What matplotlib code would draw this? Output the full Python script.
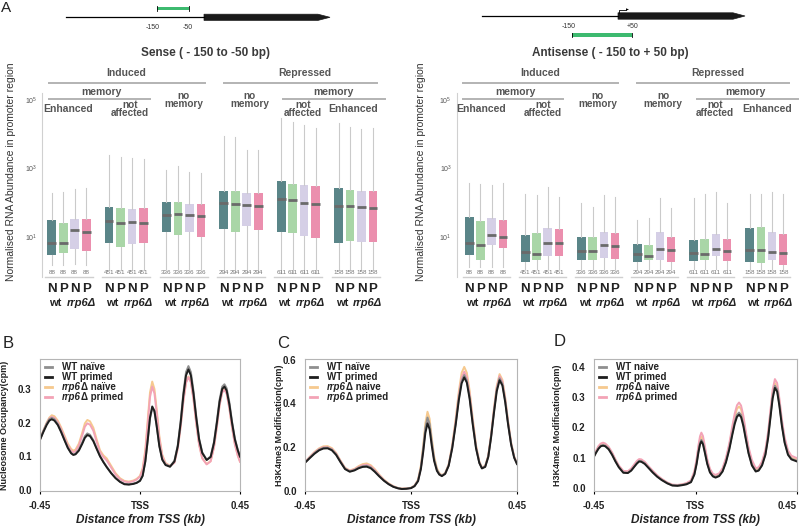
import matplotlib
matplotlib.use("Agg")
import matplotlib.pyplot as plt
from matplotlib.patches import Polygon, Rectangle
from matplotlib.lines import Line2D
from matplotlib.ticker import NullLocator
from matplotlib.transforms import blended_transform_factory
from matplotlib.offsetbox import AnchoredOffsetbox, DrawingArea, HPacker, TextArea, VPacker

plt.rcParams['font.family'] = ['Liberation Sans', 'DejaVu Sans']

W, H = 799, 527

# ---- panel A data: one row per gene group, columns wt N, wt P, rrp6 N, rrp6 P
GROUP_N = [88, 451, 336, 294, 611, 158]
CONDITIONS = ["N", "P", "N", "P"]
BOX_COLORS = ["#5a8588", "#a9d6a7", "#d5cfe6", "#eb8fae"]

SENSE_MED = [[6.8, 6.7, 15.6, 13.7], [29, 25, 28, 25], [45, 47, 43, 41],
             [101, 92, 86, 81], [129, 121, 97, 89], [81, 81, 74, 69]]
SENSE_Q1 = [[3.0, 3.4, 4.5, 4.0], [6.6, 5.2, 6.3, 6.8], [13.7, 11.2, 14.0, 10.2],
            [16.7, 14.3, 21, 15.6], [13.7, 12.8, 10.9, 9.2], [6.8, 7.8, 7.0, 7.2]]
SENSE_Q3 = [[31, 25.5, 33, 33], [75, 69, 66, 69], [105, 105, 90, 90],
            [226, 226, 188, 198], [420, 343, 328, 315], [268, 240, 226, 215]]
SENSE_LO = [[1.5, 1.5, 1.6, 1.5], [1.1, 1.1, 1.1, 1.1], [1.2, 1.2, 1.2, 1.2],
            [0.9, 0.9, 0.9, 0.9], [0.9, 0.9, 0.9, 0.9], [1.1, 1.1, 1.1, 1.1]]
SENSE_HI = [[190, 210, 245, 265], [2450, 2140, 2000, 1860], [930, 1175, 810, 760],
            [9100, 8500, 3500, 3500], [29500, 23400, 18600, 14800], [21000, 16600, 13800, 14800]]

ANTI_MED = [[6.5, 5.8, 11.4, 10.2], [3.7, 3.3, 6.8, 6.5], [3.9, 3.8, 5.7, 5.4],
            [3.3, 2.7, 4.5, 4.2], [3.5, 3.3, 4.4, 4.0], [4.3, 4.2, 3.7, 3.4]]
ANTI_Q1 = [[3.0, 2.1, 5.8, 4.7], [1.9, 2.1, 2.7, 2.7], [2.2, 2.2, 2.4, 2.3],
           [1.9, 2.2, 2.2, 1.9], [2.0, 2.1, 2.7, 2.0], [1.9, 1.7, 2.2, 1.5]]
ANTI_Q3 = [[37.5, 30, 36, 31], [11.2, 12.8, 18.3, 17.1], [10, 10, 13.7, 13.3],
           [6.1, 5.8, 13.7, 10], [8.3, 8.7, 12.2, 8.9], [18, 19, 14, 12]]
ANTI_LO = [[1.3, 1.3, 1.3, 1.3], [1.2, 1.2, 1.2, 1.2], [1.2, 1.2, 1.2, 1.2],
           [1.2, 1.2, 1.2, 1.2], [1.15, 1.15, 1.15, 1.15], [1.2, 1.2, 1.2, 1.2]]
ANTI_HI = [[380, 355, 330, 380], [186, 166, 295, 148], [96, 76, 166, 148],
           [31, 35, 135, 69], [135, 186, 210, 96], [186, 186, 210, 186]]

# ---- panels B-D: metagene profiles (kb from TSS)
XB = [-0.45, -0.435, -0.42, -0.408, -0.397, -0.385, -0.37, -0.355, -0.34, -0.325, -0.31, -0.30,
      -0.29, -0.275, -0.26, -0.248, -0.237, -0.225, -0.21, -0.195, -0.18, -0.165, -0.15, -0.13,
      -0.11, -0.09, -0.07, -0.05, -0.03, -0.015,
      0.0, 0.012, 0.024, 0.035, 0.045, 0.055, 0.065, 0.075, 0.087, 0.1, 0.115, 0.135,
      0.155, 0.17, 0.183, 0.195, 0.207, 0.218, 0.229, 0.241, 0.253, 0.266, 0.28, 0.30,
      0.318, 0.333, 0.346, 0.358, 0.37, 0.38, 0.39, 0.402, 0.414, 0.427, 0.44, 0.45]
B_WT_NAIVE = [0.150, 0.175, 0.197, 0.210, 0.214, 0.210, 0.196, 0.174, 0.150, 0.127, 0.110, 0.105,
              0.108, 0.120, 0.141, 0.160, 0.168, 0.164, 0.148, 0.124, 0.101, 0.084, 0.069, 0.051,
              0.036, 0.025, 0.018, 0.017, 0.019, 0.022,
              0.028, 0.043, 0.085, 0.148, 0.212, 0.242, 0.232, 0.190, 0.132, 0.092, 0.076, 0.070,
              0.087, 0.133, 0.205, 0.288, 0.350, 0.368, 0.350, 0.293, 0.220, 0.153, 0.112, 0.090,
              0.100, 0.143, 0.205, 0.268, 0.307, 0.314, 0.302, 0.261, 0.204, 0.153, 0.120, 0.100]
B_WT_PRIMED = [0.149, 0.172, 0.193, 0.206, 0.210, 0.206, 0.193, 0.172, 0.148, 0.125, 0.109, 0.104,
               0.106, 0.117, 0.137, 0.155, 0.163, 0.160, 0.145, 0.122, 0.100, 0.083, 0.068, 0.050,
               0.035, 0.024, 0.017, 0.016, 0.018, 0.021,
               0.027, 0.042, 0.085, 0.150, 0.215, 0.248, 0.235, 0.190, 0.130, 0.090, 0.074, 0.069,
               0.085, 0.130, 0.200, 0.280, 0.340, 0.358, 0.340, 0.285, 0.215, 0.150, 0.110, 0.089,
               0.098, 0.140, 0.200, 0.262, 0.300, 0.307, 0.295, 0.255, 0.200, 0.150, 0.118, 0.099]
B_RRP6_NAIVE = [0.150, 0.176, 0.200, 0.215, 0.222, 0.219, 0.206, 0.186, 0.162, 0.138, 0.122, 0.117,
                0.120, 0.138, 0.170, 0.198, 0.208, 0.204, 0.185, 0.150, 0.118, 0.103, 0.094, 0.072,
                0.050, 0.035, 0.027, 0.025, 0.028, 0.033,
                0.042, 0.065, 0.120, 0.210, 0.290, 0.322, 0.300, 0.240, 0.160, 0.105, 0.080, 0.072,
                0.082, 0.125, 0.190, 0.265, 0.320, 0.337, 0.322, 0.270, 0.200, 0.135, 0.095, 0.077,
                0.086, 0.128, 0.190, 0.253, 0.292, 0.299, 0.288, 0.245, 0.188, 0.136, 0.103, 0.084]
B_RRP6_PRIMED = [0.150, 0.175, 0.198, 0.212, 0.217, 0.214, 0.201, 0.181, 0.157, 0.133, 0.117, 0.112,
                 0.115, 0.132, 0.162, 0.188, 0.198, 0.194, 0.176, 0.143, 0.113, 0.098, 0.088, 0.067,
                 0.046, 0.032, 0.025, 0.023, 0.026, 0.031,
                 0.040, 0.060, 0.112, 0.198, 0.276, 0.307, 0.287, 0.230, 0.153, 0.101, 0.078, 0.071,
                 0.081, 0.123, 0.188, 0.262, 0.318, 0.335, 0.320, 0.268, 0.198, 0.134, 0.094, 0.076,
                 0.085, 0.127, 0.188, 0.251, 0.290, 0.297, 0.286, 0.243, 0.187, 0.135, 0.102, 0.084]

XC = [-0.45, -0.43, -0.41, -0.39, -0.372, -0.354, -0.336, -0.318, -0.30, -0.28,
      -0.26, -0.24, -0.222, -0.205, -0.188, -0.171, -0.154, -0.135, -0.115, -0.095, -0.075,
      -0.055, -0.039, -0.02, 0.0,
      0.015, 0.03, 0.042, 0.052, 0.061, 0.07, 0.079, 0.088, 0.098, 0.11, 0.12, 0.131,
      0.145, 0.16, 0.175, 0.19, 0.203, 0.215, 0.226, 0.237, 0.249, 0.262, 0.276, 0.29, 0.301,
      0.315, 0.328, 0.34, 0.352, 0.364, 0.376, 0.388, 0.40, 0.412, 0.425, 0.438, 0.45]
C_WT_NAIVE = [0.130, 0.152, 0.173, 0.189, 0.197, 0.198, 0.189, 0.168, 0.135, 0.102,
              0.090, 0.096, 0.107, 0.113, 0.115, 0.108, 0.091, 0.069, 0.048, 0.032, 0.020,
              0.013, 0.010, 0.011, 0.014,
              0.023, 0.048, 0.108, 0.195, 0.288, 0.336, 0.306, 0.225, 0.148, 0.097, 0.078, 0.070,
              0.080, 0.118, 0.199, 0.311, 0.424, 0.503, 0.530, 0.505, 0.428, 0.311, 0.199, 0.130, 0.105,
              0.112, 0.158, 0.249, 0.362, 0.464, 0.515, 0.490, 0.412, 0.310, 0.215, 0.154, 0.124]
C_WT_PRIMED = [0.129, 0.150, 0.170, 0.186, 0.194, 0.195, 0.186, 0.165, 0.133, 0.100,
               0.088, 0.094, 0.104, 0.110, 0.111, 0.104, 0.088, 0.067, 0.047, 0.031, 0.019,
               0.012, 0.009, 0.010, 0.013,
               0.022, 0.045, 0.100, 0.180, 0.265, 0.309, 0.282, 0.208, 0.138, 0.092, 0.075, 0.068,
               0.078, 0.115, 0.195, 0.305, 0.415, 0.492, 0.519, 0.495, 0.420, 0.305, 0.195, 0.128, 0.103,
               0.110, 0.155, 0.245, 0.355, 0.455, 0.506, 0.482, 0.405, 0.305, 0.212, 0.152, 0.123]
C_RRP6_NAIVE = [0.132, 0.156, 0.178, 0.195, 0.204, 0.205, 0.196, 0.174, 0.140, 0.106,
                0.094, 0.101, 0.114, 0.123, 0.126, 0.118, 0.100, 0.075, 0.052, 0.035, 0.022,
                0.014, 0.011, 0.012, 0.015,
                0.025, 0.052, 0.117, 0.210, 0.310, 0.362, 0.330, 0.243, 0.160, 0.104, 0.082, 0.072,
                0.082, 0.122, 0.210, 0.333, 0.455, 0.540, 0.567, 0.540, 0.458, 0.333, 0.210, 0.135, 0.108,
                0.115, 0.162, 0.257, 0.375, 0.480, 0.534, 0.508, 0.427, 0.320, 0.222, 0.158, 0.127]
C_RRP6_PRIMED = [0.131, 0.155, 0.176, 0.192, 0.200, 0.200, 0.192, 0.171, 0.138, 0.104,
                 0.092, 0.099, 0.110, 0.118, 0.120, 0.113, 0.096, 0.072, 0.050, 0.033, 0.021,
                 0.013, 0.010, 0.011, 0.014,
                 0.024, 0.049, 0.106, 0.190, 0.280, 0.324, 0.296, 0.218, 0.145, 0.096, 0.078, 0.070,
                 0.080, 0.119, 0.203, 0.320, 0.437, 0.518, 0.545, 0.520, 0.441, 0.320, 0.204, 0.132, 0.106,
                 0.113, 0.160, 0.253, 0.368, 0.472, 0.525, 0.500, 0.420, 0.315, 0.218, 0.156, 0.125]

XD = [-0.45, -0.44, -0.43, -0.42, -0.41, -0.40, -0.385, -0.37, -0.355, -0.34, -0.32,
      -0.30, -0.285, -0.27, -0.26, -0.25, -0.24, -0.225, -0.21, -0.19, -0.17, -0.15, -0.125,
      -0.103, -0.08, -0.06, -0.04, -0.02,
      -0.005, 0.005, 0.013, 0.02, 0.026, 0.033, 0.042, 0.052, 0.064, 0.077, 0.089,
      0.105, 0.12, 0.135, 0.15, 0.163, 0.174, 0.184, 0.193, 0.202, 0.212, 0.222, 0.235, 0.25, 0.267,
      0.28, 0.295, 0.31, 0.322, 0.332, 0.342, 0.352, 0.362, 0.372, 0.383, 0.395, 0.41, 0.425, 0.45]
D_WT_NAIVE = [0.105, 0.119, 0.132, 0.140, 0.142, 0.140, 0.130, 0.112, 0.090, 0.070, 0.052,
              0.051, 0.059, 0.073, 0.083, 0.090, 0.089, 0.082, 0.070, 0.053, 0.039, 0.028, 0.017,
              0.010, 0.009, 0.011, 0.014, 0.021,
              0.047, 0.083, 0.122, 0.149, 0.159, 0.150, 0.119, 0.083, 0.054, 0.041, 0.037,
              0.042, 0.057, 0.088, 0.132, 0.180, 0.218, 0.242, 0.249, 0.241, 0.211, 0.170, 0.118, 0.078, 0.057,
              0.060, 0.077, 0.113, 0.169, 0.236, 0.302, 0.337, 0.325, 0.276, 0.210, 0.154, 0.113, 0.097, 0.090]
D_WT_PRIMED = [0.104, 0.118, 0.130, 0.138, 0.140, 0.138, 0.128, 0.110, 0.088, 0.069, 0.051,
               0.050, 0.058, 0.072, 0.081, 0.088, 0.087, 0.080, 0.068, 0.052, 0.038, 0.027, 0.016,
               0.009, 0.008, 0.010, 0.013, 0.020,
               0.045, 0.080, 0.118, 0.144, 0.154, 0.145, 0.115, 0.080, 0.052, 0.039, 0.035,
               0.040, 0.055, 0.085, 0.128, 0.175, 0.212, 0.235, 0.242, 0.234, 0.205, 0.165, 0.115, 0.075, 0.055,
               0.058, 0.075, 0.110, 0.165, 0.230, 0.295, 0.330, 0.318, 0.270, 0.205, 0.150, 0.110, 0.095, 0.088]
D_RRP6_NAIVE = [0.107, 0.123, 0.137, 0.145, 0.148, 0.145, 0.134, 0.116, 0.093, 0.073, 0.055,
                0.054, 0.063, 0.077, 0.087, 0.093, 0.092, 0.085, 0.072, 0.056, 0.041, 0.030, 0.018,
                0.011, 0.010, 0.012, 0.016, 0.024,
                0.052, 0.090, 0.131, 0.159, 0.170, 0.160, 0.127, 0.089, 0.059, 0.045, 0.041,
                0.046, 0.062, 0.094, 0.141, 0.194, 0.235, 0.261, 0.269, 0.260, 0.228, 0.183, 0.128, 0.085, 0.062,
                0.065, 0.083, 0.120, 0.177, 0.244, 0.311, 0.346, 0.333, 0.283, 0.216, 0.160, 0.118, 0.101, 0.094]
D_RRP6_PRIMED = [0.108, 0.124, 0.139, 0.147, 0.150, 0.147, 0.136, 0.118, 0.095, 0.075, 0.057,
                 0.056, 0.065, 0.080, 0.090, 0.096, 0.095, 0.087, 0.074, 0.058, 0.043, 0.031, 0.019,
                 0.012, 0.011, 0.013, 0.017, 0.026,
                 0.056, 0.097, 0.141, 0.171, 0.183, 0.172, 0.137, 0.096, 0.064, 0.048, 0.044,
                 0.049, 0.066, 0.100, 0.148, 0.203, 0.246, 0.273, 0.282, 0.272, 0.239, 0.192, 0.136, 0.093, 0.066,
                 0.069, 0.088, 0.127, 0.186, 0.255, 0.324, 0.359, 0.346, 0.295, 0.226, 0.168, 0.125, 0.107, 0.099]

LINE_COLORS = {"wt_naive": "#8e8e8e", "wt_primed": "#1e1e1e",
               "rrp6_naive": "#f6c98e", "rrp6_primed": "#f3a3b6"}


fig = plt.figure(figsize=(W / 100, H / 100), dpi=100)


def px_axes(left, right, top, bottom):
    return fig.add_axes([left / W, 1 - bottom / H, (right - left) / W, (bottom - top) / H])


def box_panel(ax, med, q1, q3, lo, hi, xlim):
    stats, pos = [], []
    for g in range(len(GROUP_N)):
        for i in range(4):
            stats.append(dict(med=med[g][i], q1=q1[g][i], q3=q3[g][i],
                              whislo=lo[g][i], whishi=hi[g][i], fliers=[]))
            pos.append(5 * g + i)
    ax.set_yscale("log")
    bp = ax.bxp(stats, positions=pos, widths=0.76, patch_artist=True,
                showfliers=False, showcaps=False,
                whiskerprops=dict(color="#cacaca", lw=0.8),
                medianprops=dict(color="#6a6a6a", lw=2.0),
                boxprops=dict(lw=0))
    for k, box in enumerate(bp["boxes"]):
        box.set_facecolor(BOX_COLORS[k % 4])
        box.set_edgecolor(BOX_COLORS[k % 4])
    ax.set_xlim(*xlim)
    ax.set_ylim(0.68, 1.6e5)
    ax.set_yticks([10, 1e3, 1e5])
    ax.set_yticklabels([r"$\mathregular{10^1}$", r"$\mathregular{10^3}$", r"$\mathregular{10^5}$"],
                       fontsize=5, color="#555555")
    ax.yaxis.set_minor_locator(NullLocator())
    ax.set_xticks(pos)
    ax.set_xticklabels(CONDITIONS * len(GROUP_N), fontsize=9.5, fontweight="bold", color="#222222")
    ax.tick_params(axis="both", length=0)
    ax.tick_params(axis="x", pad=4)
    for s in ("top", "right", "bottom"):
        ax.spines[s].set_visible(False)
    ax.spines["left"].set_color("#d0d0d0")
    ax.patch.set_alpha(0)
    tr = blended_transform_factory(ax.transData, ax.transAxes)
    for g, n in enumerate(GROUP_N):
        ax.plot([5 * g - 0.6, 5 * g + 3.6], [0, 0], color="#cfcfcf", lw=1,
                transform=tr, clip_on=False)
        for i in range(4):
            ax.text(5 * g + i, 0.027, str(n), transform=tr, ha="center", va="center",
                    fontsize=4.5, color="#777777")
        ax.text(5 * g + 0.3, -0.139, "wt", transform=tr, ha="center", va="center",
                fontsize=8, fontweight="bold", color="#222222")
        ax.text(5 * g + 2.55, -0.139, "rrp6Δ", transform=tr, ha="center", va="center",
                fontsize=8, fontweight="bold", fontstyle="italic", color="#222222")
    ax.set_ylabel("Normalised RNA Abundance in promoter region", fontsize=7.5, color="#333333")


def profile_legend(ax, naive_marks):
    wt_n, rr_n = naive_marks
    entries = [("wt_naive", [("WT " + wt_n, "normal")]),
               ("wt_primed", [("WT primed", "normal")]),
               ("rrp6_naive", [("rrp6", "italic"), ("Δ " + rr_n, "normal")]),
               ("rrp6_primed", [("rrp6", "italic"), ("Δ primed", "normal")])]
    rows = []
    for key, parts in entries:
        handle = DrawingArea(6, 5)
        handle.add_artist(Line2D([0, 5], [2.5, 2.5], color=LINE_COLORS[key], lw=2))
        words = [TextArea(s, textprops=dict(fontsize=7, fontweight="bold", fontstyle=st,
                                             color="#222222")) for s, st in parts]
        rows.append(HPacker(children=[handle, HPacker(children=words, pad=0, sep=0)],
                            align="center", pad=0, sep=6))
    box = AnchoredOffsetbox(loc="upper left", child=VPacker(children=rows, align="left", pad=0, sep=0),
                            frameon=False, pad=0, borderpad=0,
                            bbox_to_anchor=(0.025, 0.975), bbox_transform=ax.transAxes)
    ax.add_artist(box)


def profile_panel(ax, x, curves, ylim, yticks, ylabel, naive_marks, label_x):
    order = ["rrp6_naive", "rrp6_primed", "wt_naive", "wt_primed"]
    for key in order:
        ax.plot(x, curves[key], color=LINE_COLORS[key], lw=1.4)
    ax.set_xlim(-0.45, 0.45)
    ax.set_ylim(*ylim)
    ax.set_xticks([-0.45, 0, 0.45])
    ax.set_xticklabels(["-0.45", "TSS", "0.45"], fontsize=7, fontweight="bold", color="#222222")
    ax.set_yticks(yticks)
    ax.set_yticklabels([f"{v:.1f}" for v in yticks], fontsize=7, fontweight="bold", color="#222222")
    ax.tick_params(axis="y", length=0, pad=6)
    ax.tick_params(axis="x", length=2, pad=5)
    for s in ax.spines.values():
        s.set_color("#b5b5b5")
        s.set_linewidth(0.8)
    ax.set_ylabel(ylabel, fontsize=6.5, fontweight="bold", color="#222222")
    ax.yaxis.set_label_coords(label_x, 0.5)
    ax.set_xlabel("Distance from TSS (kb)", fontsize=8.5, fontweight="bold", fontstyle="italic",
                  color="#222222")
    ax.xaxis.set_label_coords(0.5, -0.175)
    ax.xaxis.label.set_va("top")
    profile_legend(ax, naive_marks)


# ---- panel A
axL = px_axes(42, 385, 93, 277)
box_panel(axL, SENSE_MED, SENSE_Q1, SENSE_Q3, SENSE_LO, SENSE_HI, (-0.85, 29.05))
axL.yaxis.set_label_coords(-0.077, 0.573)
axR = px_axes(456.7, 795, 93, 277)
box_panel(axR, ANTI_MED, ANTI_Q1, ANTI_Q3, ANTI_LO, ANTI_HI, (-1.12, 29.05))
axR.yaxis.set_label_coords(-0.092, 0.573)

# ---- panels B-D
axB = px_axes(40, 240, 359, 491)
profile_panel(axB, XB, {"wt_naive": B_WT_NAIVE, "wt_primed": B_WT_PRIMED,
                        "rrp6_naive": B_RRP6_NAIVE, "rrp6_primed": B_RRP6_PRIMED},
              (-0.003, 0.389), [0.0, 0.1, 0.2, 0.3], "Nucleosome Occupancy(cpm)",
              ("naïve", "naïve"), -0.155)
axC = px_axes(305, 517, 359, 491)
profile_panel(axC, XC, {"wt_naive": C_WT_NAIVE, "wt_primed": C_WT_PRIMED,
                        "rrp6_naive": C_RRP6_NAIVE, "rrp6_primed": C_RRP6_PRIMED},
              (0.0, 0.603), [0.0, 0.2, 0.4, 0.6], "H3K4me3 Modification(cpm)",
              ("naïve", "naive"), -0.099)
axD = px_axes(594, 797, 359, 491)
profile_panel(axD, XD, {"wt_naive": D_WT_NAIVE, "wt_primed": D_WT_PRIMED,
                        "rrp6_naive": D_RRP6_NAIVE, "rrp6_primed": D_RRP6_PRIMED},
              (-0.009, 0.425), [0.0, 0.1, 0.2, 0.3, 0.4], "H3K4me2 Modification(cpm)",
              ("naive", "naive"), -0.158)
axD.get_xticklabels()[-1].set_ha("right")

# ---- overlay in pixel coordinates: gene diagrams, group headers, panel letters
ov = fig.add_axes([0, 0, 1, 1], zorder=10)
ov.set_xlim(0, W)
ov.set_ylim(H, 0)
ov.axis("off")
ov.patch.set_alpha(0)

GREEN = "#3dba6f"
# sense diagram
ov.plot([66, 204], [17.3, 17.3], color="black", lw=0.9)
ov.add_patch(Polygon([(204, 14.2), (318, 14.2), (330, 17.3), (318, 20.4), (204, 20.4)],
                     closed=True, fc="#1a1a1a", ec="#1a1a1a", lw=0.5))
ov.add_patch(Rectangle((156.7, 6.8), 32.3, 3.2, fc=GREEN, ec="none"))
ov.plot([156.7, 156.7], [6.3, 10.5], color="black", lw=0.6)
ov.plot([189, 189], [6.3, 10.5], color="black", lw=0.6)
ov.text(152.5, 27.5, "-150", fontsize=5, ha="center", va="center", color="#333333")
ov.text(187.5, 27.5, "-50", fontsize=5, ha="center", va="center", color="#333333")
# antisense diagram
ov.plot([481.7, 618], [16, 16], color="black", lw=0.9)
ov.add_patch(Polygon([(618, 12.8), (733, 12.8), (745, 16), (733, 19.2), (618, 19.2)],
                     closed=True, fc="#1a1a1a", ec="#1a1a1a", lw=0.5))
ov.plot([619, 619, 626], [13, 9.5, 9.5], color="black", lw=0.6)
ov.add_patch(Polygon([(626, 8.3), (629, 9.5), (626, 10.7)], closed=True, fc="black", ec="none"))
ov.add_patch(Rectangle((571.7, 33.3), 60.6, 3.2, fc=GREEN, ec="none"))
ov.plot([571.7, 571.7], [32.8, 37], color="black", lw=0.6)
ov.plot([632.3, 632.3], [32.8, 37], color="black", lw=0.6)
ov.text(568.3, 26.7, "-150", fontsize=5, ha="center", va="center", color="#333333")
ov.text(633, 26.7, "+50", fontsize=5, ha="center", va="center", color="#333333")

HEAD = dict(ha="center", va="center", color="#555555", fontweight="bold")
LINE = dict(color="#b3b3b3", lw=1.4)
for title, tx, xs in [
        ("Sense ( - 150 to -50 bp)", 205.7,
         dict(ind=(126, 49, 205), rep=(305, 224, 377), mem_i=(101.7, 49, 150), nomem_i=184,
              enh_i=68, naff_i=130, nomem_r=250, mem_r=(333, 283, 385), naff_r=303, enh_r=352.7)),
        ("Antisense ( - 150 to + 50 bp)", 610,
         dict(ind=(540, 463, 618), rep=(718, 637, 789), mem_i=(515, 463, 563), nomem_i=598,
              enh_i=481, naff_i=543, nomem_r=663, mem_r=(745, 697, 798), naff_r=715, enh_r=767))]:
    ov.text(tx, 53, title, fontsize=8.5, ha="center", va="center", color="#3a3a3a", fontweight="bold")
    for key, word, ly in [("ind", "Induced", 82.7), ("rep", "Repressed", 83.3)]:
        cx, l, r = xs[key]
        ov.text(cx, 72.7, word, fontsize=7.5, **HEAD)
        ov.plot([l, r], [ly, ly], **LINE)
    for key in ("mem_i", "mem_r"):
        cx, l, r = xs[key]
        ov.text(cx, 91.7, "memory", fontsize=7.5, **HEAD)
        ov.plot([l, r], [99, 99], **LINE)
    for key in ("nomem_i", "nomem_r"):
        ov.text(xs[key], 100, "no\nmemory", fontsize=7.2, linespacing=0.8, **HEAD)
    for key in ("naff_i", "naff_r"):
        ov.text(xs[key], 109.5, "not\naffected", fontsize=7.2, linespacing=0.75, **HEAD)
    for key in ("enh_i", "enh_r"):
        ov.text(xs[key], 109.3, "Enhanced", fontsize=7.5, **HEAD)

ov.text(1, 8, "A", fontsize=11, ha="left", va="center", color="#222222")
ov.text(3, 343, "B", fontsize=12, ha="left", va="center", color="#222222")
ov.text(277, 343, "C", fontsize=12, ha="left", va="center", color="#222222")
ov.text(554, 341, "D", fontsize=12, ha="left", va="center", color="#222222")

fig.savefig("out.png", dpi=100)
